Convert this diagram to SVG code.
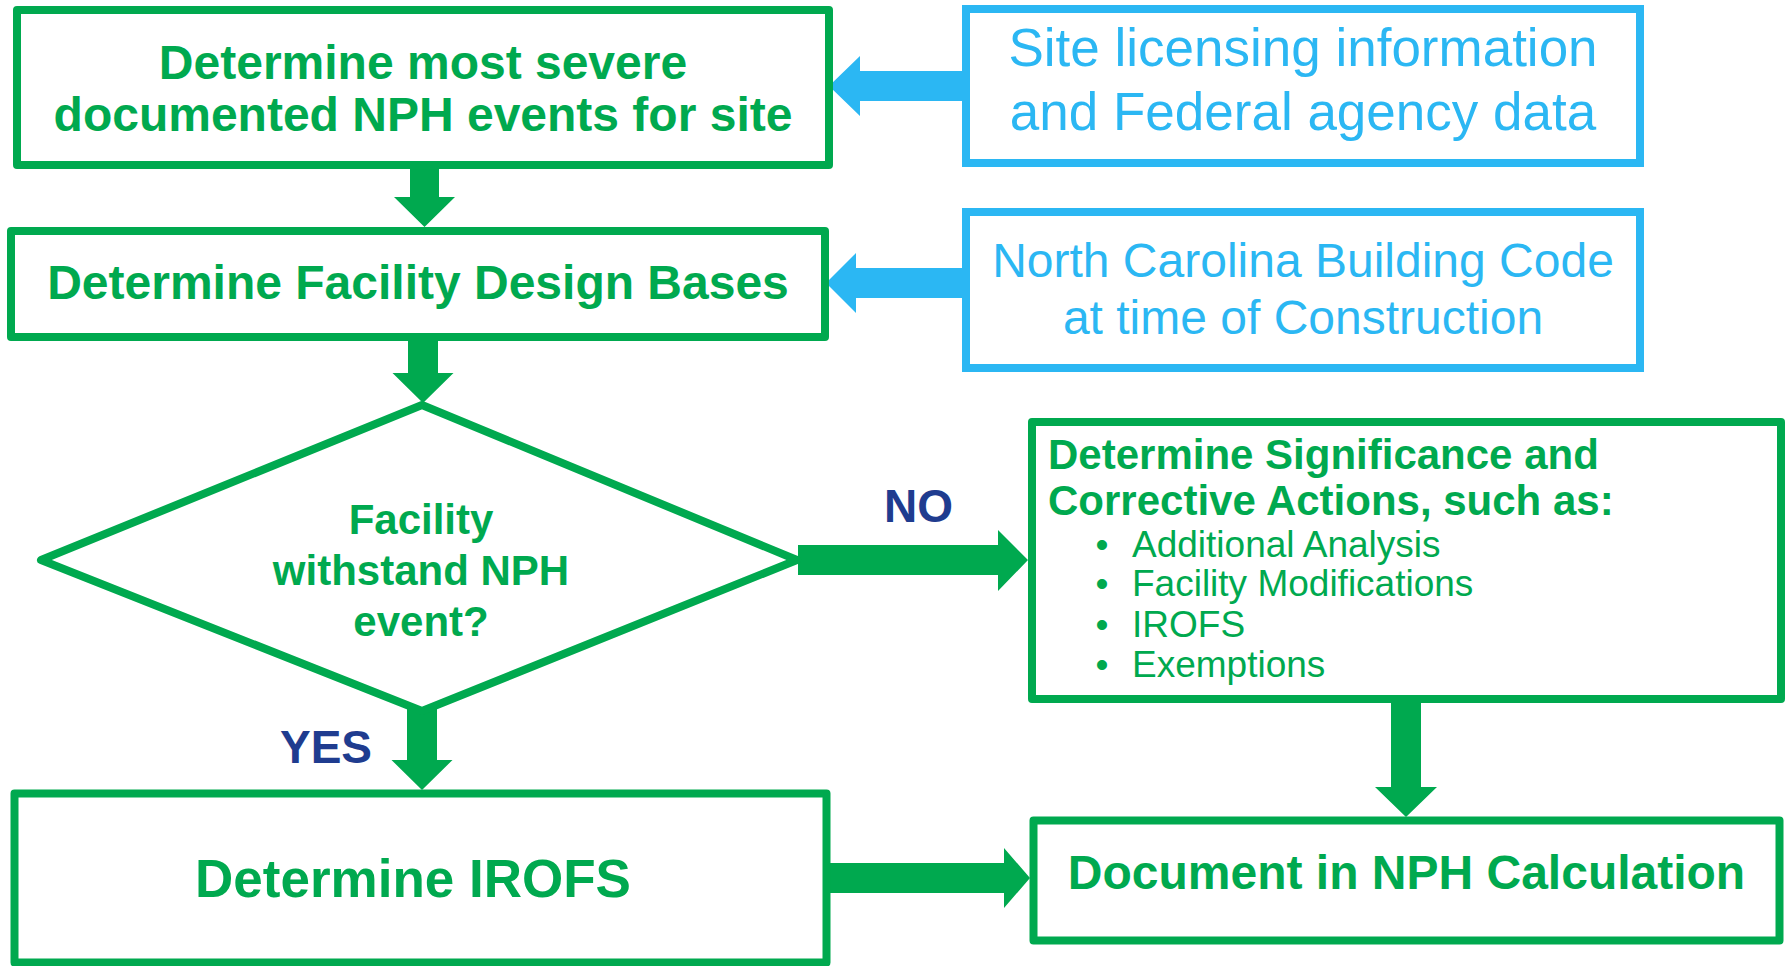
<svg xmlns="http://www.w3.org/2000/svg" width="1789" height="966" viewBox="0 0 1789 966">
<style>
.gbox{fill:#fff;stroke:#00A94F;stroke-width:8;stroke-linejoin:round}
.bbox{fill:#fff;stroke:#2BB7F3;stroke-width:8}
.garrow{fill:#00A94F}
.barrow{fill:#2BB7F3}
.gb{font-family:"Liberation Sans",Arial,sans-serif;font-weight:bold;fill:#00A94F}
.gr{font-family:"Liberation Sans",Arial,sans-serif;fill:#00A94F}
.br{font-family:"Liberation Sans",Arial,sans-serif;fill:#2BB7F3;text-anchor:middle}
.lbl{font-family:"Liberation Sans",Arial,sans-serif;font-weight:bold;fill:#1F3C8F;font-size:46px}
.mid{text-anchor:middle}
</style>
<rect width="1789" height="966" fill="#fff"/>
<g id="connectors">
<polygon class="garrow" points="410,165 439,165 439,197 455,197 424.5,227 394,197 410,197"/>
<polygon class="garrow" points="408,337 438,337 438,373 453.5,373 423,403 392.5,373 408,373"/>
<polygon class="garrow" points="407,706 437,706 437,760 452.5,760 422,790 391.5,760 407,760"/>
<polygon class="garrow" points="798,545 998,545 998,530 1028,560 998,591 998,575 798,575"/>
<polygon class="garrow" points="1391,699 1421,699 1421,787 1437,787 1406,817 1375,787 1391,787"/>
<polygon class="garrow" points="826,863 1004,863 1004,848 1030,878 1004,908 1004,893 826,893"/>
<polygon class="barrow" points="965,71 860,71 860,56 829,86 860,116 860,101 965,101"/>
<polygon class="barrow" points="965,268 856,268 856,253 826,283 856,313 856,298 965,298"/>
</g>
<g id="node-severe">
<rect class="gbox" x="17" y="10" width="812" height="155"/>
<text class="gb mid" x="423" y="79" font-size="48">Determine most severe</text>
<text class="gb mid" x="423" y="131" font-size="48">documented NPH events for site</text>
</g>
<g id="node-design">
<rect class="gbox" x="11" y="231" width="814" height="106"/>
<text class="gb mid" x="418" y="299" font-size="48">Determine Facility Design Bases</text>
</g>
<g id="node-site">
<rect class="bbox" x="966" y="9" width="674" height="154"/>
<text class="br" x="1303" y="66" font-size="53">Site licensing information</text>
<text class="br" x="1303" y="130" font-size="53">and Federal agency data</text>
</g>
<g id="node-nc">
<rect class="bbox" x="966" y="212" width="674" height="156"/>
<text class="br" x="1303" y="277" font-size="48">North Carolina Building Code</text>
<text class="br" x="1303" y="334" font-size="48">at time of Construction</text>
</g>
<g id="node-decision">
<polygon class="gbox" stroke-width="7" points="422,405 797,560 422,711 41,560"/>
<text class="gb mid" x="421" y="534" font-size="42">Facility</text>
<text class="gb mid" x="421" y="585" font-size="42">withstand NPH</text>
<text class="gb mid" x="421" y="636" font-size="42">event?</text>
</g>
<g id="labels">
<text class="lbl" x="884" y="522">NO</text>
<text class="lbl" x="280" y="763">YES</text>
</g>
<g id="node-significance">
<rect class="gbox" x="1032" y="422" width="749" height="277"/>
<text class="gb" x="1048" y="469" font-size="42">Determine Significance and</text>
<text class="gb" x="1048" y="515" font-size="42">Corrective Actions, such as:</text>
<g class="gr" font-size="37">
<text class="mid" x="1102" y="557">•</text><text x="1132" y="557">Additional Analysis</text>
<text class="mid" x="1102" y="596">•</text><text x="1132" y="596">Facility Modifications</text>
<text class="mid" x="1102" y="637">•</text><text x="1132" y="637">IROFS</text>
<text class="mid" x="1102" y="677">•</text><text x="1132" y="677">Exemptions</text>
</g>
</g>
<g id="node-irofs">
<rect class="gbox" stroke-width="7" x="14.5" y="793.5" width="812" height="169"/>
<text class="gb mid" x="413" y="897" font-size="53">Determine IROFS</text>
</g>
<g id="node-document">
<rect class="gbox" stroke-width="7" x="1033.5" y="820.5" width="746" height="120"/>
<text class="gb mid" x="1406.5" y="889" font-size="48">Document in NPH Calculation</text>
</g>
</svg>
